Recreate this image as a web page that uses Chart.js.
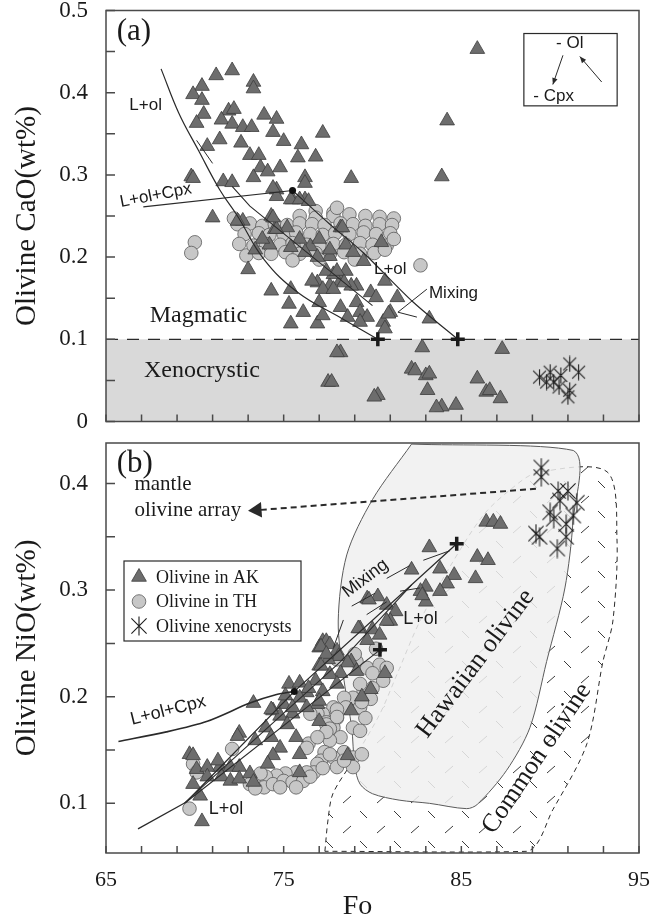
<!DOCTYPE html>
<html>
<head>
<meta charset="utf-8">
<title>Olivine CaO and NiO vs Fo</title>
<script src="https://cdn.jsdelivr.net/npm/chart.js@4.4.1/dist/chart.umd.min.js"></script>
<style>
  html, body { margin: 0; padding: 0; background: #fff; }
  #wrap { position: relative; width: 656px; height: 920px; }
  canvas { position: absolute; left: 0; }
  #chartA { top: 0; }
  #chartB { top: 432px; }
</style>
</head>
<body>
<div id="wrap">
  <canvas id="chartA" width="656" height="432"></canvas>
  <canvas id="chartB" width="656" height="488"></canvas>
</div>
<script>
// ---- axes
var xTicks = [65, 67, 69, 71, 73, 75, 77, 79, 81, 83, 85, 87, 89, 91, 93, 95];
var xLabels = [65, 75, 85, 95];
var yTicksA = [0, 0.05, 0.1, 0.15, 0.2, 0.25, 0.3, 0.35, 0.4, 0.45, 0.5];
var yLabelsA = [0, 0.1, 0.2, 0.3, 0.4, 0.5];
var yTicksB = [0.1, 0.15, 0.2, 0.25, 0.3, 0.35, 0.4];
var yLabelsB = [0.1, 0.2, 0.3, 0.4];
var caoLimit = 0.1;

// ---- (a) Fo vs CaO
var akA = [
  [71.2,0.421],[72.1,0.427],[73.3,0.413],[73.3,0.405],[70.4,0.408],[69.9,0.398],[70.4,0.391],
  [70.5,0.374],[70.1,0.363],[71.9,0.378],[72.2,0.380],[71.5,0.367],[72.1,0.362],[72.7,0.358],
  [73.2,0.358],[73.9,0.373],[74.6,0.368],[74.4,0.352],[75.0,0.341],[76.0,0.337],[77.2,0.351],
  [71.4,0.343],[72.6,0.339],[70.7,0.335],[73.1,0.324],[73.6,0.324],[73.7,0.309],[74.1,0.304],
  [74.8,0.309],[75.8,0.321],[76.8,0.322],[76.2,0.297],[69.8,0.298],[69.9,0.296],[73.3,0.297],
  [71.6,0.292],[72.1,0.291],[74.6,0.282],[74.6,0.274],[75.5,0.270],[76.2,0.270],
  [85.9,0.453],[84.2,0.366],[83.9,0.298],[78.8,0.296],
  [76.2,0.290],[74.4,0.284],[75.4,0.270],[75.9,0.270],[76.4,0.268],[74.3,0.250],[72.7,0.244],
  [72.4,0.244],[74.5,0.234],[75.2,0.236],[78.2,0.236],[73.0,0.185],[74.3,0.159],[75.4,0.161],
  [75.3,0.143],[76.1,0.133],[77.0,0.145],[75.4,0.119],[76.9,0.119],[76.9,0.169],[77.6,0.165],
  [78.5,0.183],[78.2,0.171],[79.1,0.165],[79.9,0.157],[80.7,0.171],[81.4,0.151],[80.2,0.151],
  [79.1,0.145],[78.2,0.139],[79.3,0.133],[79.7,0.127],[80.6,0.121],[81.0,0.133],[80.7,0.113],
  [83.2,0.125],[78.6,0.127],[79.3,0.121],[77.2,0.129],[77.6,0.201],[79.5,0.195],[80.5,0.218],
  [80.9,0.131],[78.8,0.165],[77.8,0.179],[77.4,0.183],
  [74.6,0.234],[75.9,0.222],[76.5,0.213],[77.0,0.222],[77.6,0.209],[78.3,0.236],[78.5,0.215],
  [78.9,0.206],[74.2,0.215],[73.8,0.222],[73.4,0.209],[75.4,0.212],[76.2,0.206],[76.9,0.200],
  [78.0,0.183],[76.6,0.171],[78.4,0.169],[77.2,0.161],[77.8,0.161],[71.0,0.248],[74.4,0.248],
  [78.2,0.084],[78.0,0.084],[82.8,0.090],[87.3,0.088],[82.2,0.064],[82.4,0.062],[83.0,0.056],
  [83.2,0.058],[85.9,0.052],[77.5,0.048],[77.7,0.048],[80.3,0.032],[80.1,0.030],[83.1,0.038],
  [83.9,0.018],[83.6,0.017],[84.7,0.020],[86.4,0.036],[86.6,0.038],[87.2,0.028]
];
var thA = [
  [70.0,0.218],[69.8,0.205],[72.9,0.202],[82.7,0.190],[76.8,0.256],[77.8,0.254],
  [75.9,0.250],[76.8,0.248],[77.8,0.250],[78.7,0.252],[79.6,0.250],[80.4,0.249],[81.2,0.247],
  [72.4,0.240],[73.1,0.241],[73.8,0.238],[74.5,0.240],[75.2,0.239],[75.9,0.241],[76.6,0.240],
  [77.3,0.239],[78.2,0.241],[78.9,0.240],[79.6,0.238],[80.4,0.240],[81.1,0.239],
  [72.8,0.228],[73.6,0.229],[74.2,0.227],[75.0,0.228],[75.7,0.230],[76.5,0.228],[77.2,0.227],
  [77.9,0.229],[78.7,0.228],[79.5,0.230],[80.2,0.228],[81.0,0.229],
  [72.5,0.216],[73.3,0.214],[74.0,0.216],[74.8,0.215],[75.5,0.217],[76.3,0.215],[77.0,0.214],
  [77.8,0.216],[78.5,0.215],[79.3,0.217],[80.0,0.215],[80.8,0.214],[81.2,0.222],
  [73.6,0.205],[74.3,0.204],[75.1,0.206],[75.9,0.204],[76.8,0.205],[77.6,0.204],[78.4,0.206],
  [79.3,0.204],[80.1,0.205],[79.0,0.197],[77.0,0.197],[75.5,0.196],[80.7,0.209],[78.0,0.260],
  [72.2,0.247]
];
var xenoA = [
  [89.4,0.054],[90.0,0.060],[90.2,0.048],[91.1,0.070],[91.6,0.060],[90.5,0.042],[91.1,0.038],
  [91.0,0.030],[89.8,0.048],[90.6,0.056]
];
var olCurveA = [[68.1,0.429],[69.1,0.375],[70.2,0.330],[71.4,0.282],[72.4,0.250],[73.9,0.197],[75.8,0.157],[78.3,0.125],[80.3,0.10]];
var cpxLineA = [[67.1,0.261],[75.5,0.281]];
var olLineA = [[75.5,0.281],[77.6,0.240],[79.5,0.205],[82.3,0.145],[84.8,0.10]];
var mixLineA = [[72.1,0.286],[73.1,0.262],[80.0,0.141]];
var tieA = [[70.1,0.342],[71.0,0.314]];
var mixPointerA = [[83.06,0.161],[81.43,0.133],[82.5,0.127]];
var crossA = [[80.3,0.10],[84.8,0.10]];
var dotA = [[75.5,0.281]];

// ---- (b) Fo vs NiO
var akB = [
  [86.4,0.364],[86.8,0.364],[87.2,0.362],[83.2,0.340],[85.9,0.331],[86.5,0.328],[82.2,0.319],
  [83.8,0.320],[84.6,0.314],[85.8,0.311],[84.2,0.306],[83.0,0.303],[82.7,0.299],[83.8,0.299],
  [83.0,0.289],[82.8,0.295],[79.7,0.292],[80.3,0.294],[79.8,0.291],[80.8,0.286],[81.3,0.280],
  [81.0,0.271],[80.8,0.271],[79.3,0.264],[80.0,0.263],[79.2,0.264],[80.4,0.258],[79.7,0.253],
  [77.2,0.252],[77.4,0.252],[77.6,0.249],[77.0,0.246],[78.0,0.243],[78.1,0.238],[77.5,0.235],
  [78.8,0.233],[77.0,0.229],[78.6,0.232],[79.1,0.224],[78.2,0.222],[77.6,0.221],[80.7,0.222],
  [79.9,0.207],[78.0,0.212],[76.8,0.215],[76.3,0.204],[75.3,0.212],[73.3,0.194],[77.2,0.205],
  [75.9,0.199],[75.0,0.193],[74.4,0.187],[75.5,0.184],[76.9,0.193],[74.8,0.182],
  [77.1,0.247],[77.4,0.240],[77.1,0.229],[75.9,0.213],[76.4,0.208],[75.1,0.201],[75.5,0.190],
  [74.3,0.188],[76.3,0.190],[77.0,0.196],[75.2,0.174],[72.5,0.166],[72.4,0.163],[74.0,0.171],
  [74.3,0.162],[73.4,0.159],[75.7,0.162],[77.0,0.177],[74.8,0.152],[74.4,0.145],[74.1,0.137],
  [75.9,0.146],[75.9,0.129],[71.4,0.134],[72.0,0.134],[72.5,0.134],[69.7,0.146],[69.9,0.145],
  [70.1,0.132],[70.7,0.134],[71.3,0.140],[70.7,0.125],[69.9,0.118],[70.3,0.107],[71.5,0.125],
  [72.0,0.121],[72.5,0.123],[73.1,0.128],[73.3,0.120],[70.4,0.083],[78.6,0.145],[78.8,0.187],
  [79.4,0.200]
];
var thB = [
  [78.0,0.235],[79.1,0.233],[79.7,0.227],[80.4,0.230],[80.8,0.227],[80.6,0.215],[80.0,0.208],
  [79.5,0.205],[78.9,0.199],[78.4,0.199],[77.8,0.190],[78.5,0.190],[79.3,0.190],[77.2,0.184],
  [78.0,0.180],[76.9,0.184],[76.5,0.184],[80.2,0.245],[79.3,0.212],[79.9,0.198],[79.4,0.195],
  [78.9,0.171],[79.3,0.168],[77.8,0.171],[78.2,0.162],[77.4,0.176],[78.0,0.188],[77.4,0.174],
  [78.0,0.181],[77.6,0.170],[79.6,0.180],[80.0,0.222],[79.0,0.240],
  [77.6,0.159],[78.4,0.148],[78.9,0.143],[78.9,0.134],[77.8,0.143],[77.3,0.148],[78.0,0.134],
  [79.4,0.146],[77.1,0.140],[77.6,0.146],[76.9,0.137],[76.7,0.129],[76.3,0.129],[75.7,0.129],
  [75.1,0.128],[74.6,0.126],[74.0,0.125],[73.7,0.128],[73.3,0.118],[73.9,0.115],[74.4,0.118],
  [75.0,0.121],[75.5,0.120],[76.1,0.121],[73.1,0.118],[73.4,0.114],[74.8,0.115],[75.7,0.115],
  [76.5,0.125],[77.2,0.133],[78.4,0.140],[72.1,0.151],[69.9,0.137],[70.1,0.129],[69.7,0.095],
  [76.4,0.156],[76.3,0.152],[77.4,0.167],[76.9,0.162]
];
var xenoB = [
  [89.5,0.415],[89.5,0.406],[90.45,0.393],[91.0,0.393],[90.55,0.384],[91.5,0.382],[90.0,0.373],
  [90.2,0.367],[91.3,0.370],[90.9,0.362],[89.2,0.353],[89.4,0.350],[90.4,0.339],[90.9,0.350]
];
var cpxLineB = [[65.7,0.158],[68.4,0.167],[70.7,0.177],[73.1,0.194],[74.6,0.202],[75.6,0.205]];
var olStemB = [[66.8,0.076],[69.5,0.101]];
var olLineB1 = [[69.5,0.101],[75.6,0.205],[84.74,0.3435]];
var olLineB2 = [[69.5,0.101],[80.42,0.244]];
var olLineB3 = [[69.4,0.100],[78.2,0.233],[82.2,0.305]];
var tiesB = [
  [[82.86,0.328],[84.36,0.337]],
  [[80.8,0.311],[82.1,0.323]],
  [[78.83,0.285],[80.14,0.297]],
  [[81.55,0.299],[82.67,0.302]],
  [[79.67,0.277],[80.8,0.289]],
  [[77.8,0.246],[78.36,0.272]]
];
var crossB = [[84.74,0.3435],[80.42,0.244]];
var dotB = [[75.6,0.205]];
var mantleArrow = [[89.2,0.395],[73.5,0.375]];
var hawaiianField = [
  [82.2,0.437],[80.0,0.385],[78.55,0.333],[78.07,0.271],[78.4,0.215],[78.83,0.171],[79.0,0.135],
  [79.3,0.118],[80.0,0.109],[81.5,0.103],[83.2,0.100],[85.3,0.095],[85.9,0.099],[87.55,0.131],
  [88.86,0.171],[89.8,0.233],[90.83,0.302],[91.28,0.364],[91.3,0.431],[82.2,0.437]
];
var commonField = [
  [77.32,0.055],[77.5,0.085],[77.77,0.109],[78.9,0.140],[80.42,0.184],[81.38,0.221],[82.67,0.271],
  [84.36,0.322],[86.22,0.370],[87.74,0.394],[89.25,0.410],[93.2,0.411],[93.76,0.348],[93.53,0.271],
  [92.97,0.233],[92.07,0.156],[90.15,0.094],[88.69,0.055],[77.32,0.055]
];

var SERIF = "'Liberation Serif', 'Times New Roman', serif";
var SANS = "'Liberation Sans', Arial, sans-serif";
Chart.defaults.font.family = SERIF;
Chart.defaults.color = '#1a1a1a';

function pts(a) {
  return a.map(function (p) { return { x: p[0], y: p[1] }; });
}

function makeAsterisk(size) {
  var c = document.createElement('canvas');
  c.width = size; c.height = size;
  var g = c.getContext('2d');
  var m = size / 2, r = size / 2 - 0.5, d = r * 0.8;
  g.strokeStyle = '#1e1e1e';
  g.lineWidth = 1.1;
  g.beginPath();
  g.moveTo(m, m - r); g.lineTo(m, m + r);
  g.moveTo(m - d, m - d); g.lineTo(m + d, m + d);
  g.moveTo(m + d, m - d); g.lineTo(m - d, m + d);
  g.stroke();
  return c;
}

function makeHatch(ctx) {
  var c = document.createElement('canvas');
  c.width = 34; c.height = 30;
  var g = c.getContext('2d');
  g.strokeStyle = '#3a3a3a';
  g.lineWidth = 1;
  g.beginPath();
  g.moveTo(3, 11); g.lineTo(11, 4);
  g.moveTo(20, 19); g.lineTo(27, 26);
  g.stroke();
  return ctx.createPattern(c, 'repeat');
}

var triStyle = { pointStyle: 'triangle', radius: 8.5, fill: '#6d6d6d', stroke: '#3c3c3c' };
var cirStyle = { pointStyle: 'circle', radius: 6.8, fill: '#c7c7c7', stroke: '#5a5a5a' };

function pointSet(data, st, order) {
  return {
    type: 'scatter', data: pts(data), order: order,
    pointStyle: st.pointStyle, pointRadius: st.radius,
    backgroundColor: st.fill, borderColor: st.stroke, borderWidth: 0.8
  };
}
function starSet(data, img, order) {
  return { type: 'scatter', data: pts(data), order: order, pointStyle: img, pointRadius: img.width / 2 };
}
function lineSet(data, width, tension) {
  return {
    type: 'line', data: pts(data), order: 1, borderColor: '#2a2a2a', borderWidth: width || 1.2,
    pointRadius: 0, fill: false, tension: tension || 0
  };
}
function crossSet(data) {
  return {
    type: 'scatter', data: pts(data), order: 0, pointStyle: 'cross', pointRadius: 7,
    borderColor: '#1a1a1a', borderWidth: 3.5
  };
}
function dotSet(data) {
  return {
    type: 'scatter', data: pts(data), order: 0, pointStyle: 'circle', pointRadius: 3.5,
    backgroundColor: '#111', borderColor: '#111', borderWidth: 0
  };
}

// frame + inward tick marks
function framePlugin(yTicks) {
  return {
    id: 'frame',
    afterDatasetsDraw: function (chart) {
      var ctx = chart.ctx, a = chart.chartArea, xs = chart.scales.x, ys = chart.scales.y;
      ctx.save();
      ctx.strokeStyle = '#4a4a4a';
      ctx.lineWidth = 1.5;
      ctx.strokeRect(a.left, a.top, a.right - a.left, a.bottom - a.top);
      ctx.beginPath();
      xTicks.forEach(function (v) {
        var px = xs.getPixelForValue(v);
        ctx.moveTo(px, a.bottom); ctx.lineTo(px, a.bottom - 7);
      });
      yTicks.forEach(function (v) {
        var py = ys.getPixelForValue(v);
        ctx.moveTo(a.left, py); ctx.lineTo(a.left + 9, py);
      });
      ctx.stroke();
      ctx.restore();
    }
  };
}

function notesPlugin(notes) {
  return {
    id: 'notes',
    afterDatasetsDraw: function (chart) {
      var ctx = chart.ctx, xs = chart.scales.x, ys = chart.scales.y;
      notes.forEach(function (n) {
        ctx.save();
        ctx.translate(xs.getPixelForValue(n.x), ys.getPixelForValue(n.y));
        ctx.rotate((n.rot || 0) * Math.PI / 180);
        ctx.font = n.size + 'px ' + n.family;
        ctx.fillStyle = '#1a1a1a';
        ctx.textAlign = n.align || 'center';
        ctx.textBaseline = 'middle';
        ctx.fillText(n.text, 0, 0);
        ctx.restore();
      });
    }
  };
}

// x axis title, sits a little left of the plot centre as in the figure
var foTitle = {
  id: 'foTitle',
  afterDraw: function (chart) {
    var ctx = chart.ctx, a = chart.chartArea;
    ctx.save();
    ctx.font = '28px ' + SERIF;
    ctx.fillStyle = '#1a1a1a';
    ctx.textAlign = 'center';
    ctx.textBaseline = 'middle';
    ctx.fillText('Fo', (a.left + a.right) / 2 - 15, a.bottom + 54);
    ctx.restore();
  }
};

function arrow(ctx, x1, y1, x2, y2, head) {
  var ang = Math.atan2(y2 - y1, x2 - x1);
  ctx.beginPath();
  ctx.moveTo(x1, y1); ctx.lineTo(x2, y2);
  ctx.stroke();
  ctx.beginPath();
  ctx.moveTo(x2, y2);
  ctx.lineTo(x2 - head * Math.cos(ang - 0.4), y2 - head * Math.sin(ang - 0.4));
  ctx.lineTo(x2 - head * Math.cos(ang + 0.4), y2 - head * Math.sin(ang + 0.4));
  ctx.closePath();
  ctx.fill();
}

function axisOptions(cfg) {
  return {
    x: {
      type: 'linear', min: 65, max: 95,
      afterBuildTicks: function (s) { s.ticks = xTicks.map(function (v) { return { value: v }; }); },
      afterFit: function (s) { s.height = cfg.xHeight; s.paddingLeft = 0; s.paddingRight = 0; },
      grid: { display: false, drawTicks: false },
      border: { display: false },
      ticks: {
        display: cfg.xLabels, autoSkip: false, maxRotation: 0, padding: 14,
        color: '#1a1a1a', font: { size: 22 },
        callback: function (v) { return xLabels.indexOf(v) >= 0 ? String(v) : ''; }
      }
    },
    y: {
      type: 'linear', min: cfg.yMin, max: cfg.yMax,
      afterBuildTicks: function (s) { s.ticks = cfg.yTicks.map(function (v) { return { value: v }; }); },
      afterFit: function (s) { s.width = 106; s.paddingTop = 0; s.paddingBottom = 0; },
      grid: { display: false, drawTicks: false },
      border: { display: false },
      ticks: {
        autoSkip: false, padding: 18, color: '#1a1a1a', font: { size: 23 },
        callback: function (v) { return cfg.yLabels.indexOf(v) >= 0 ? String(v) : ''; }
      },
      title: {
        display: true, text: cfg.yTitle, color: '#1a1a1a',
        font: { size: 29, lineHeight: 1 }, padding: { top: 13, bottom: 0 }
      }
    }
  };
}

// ---------------- panel (a)
var notesA = [
  { text: '(a)', x: 65.6, y: 0.474, size: 31, family: SERIF, align: 'left' },
  { text: 'L+ol', x: 67.23, y: 0.385, size: 17, family: SANS },
  { text: 'L+ol+Cpx', x: 67.8, y: 0.275, size: 17, family: SANS, rot: -11 },
  { text: 'L+ol', x: 81.0, y: 0.185, size: 17, family: SANS },
  { text: 'Mixing', x: 84.56, y: 0.156, size: 17, family: SANS },
  { text: 'Magmatic', x: 70.2, y: 0.129, size: 24, family: SERIF },
  { text: 'Xenocrystic', x: 70.4, y: 0.062, size: 24, family: SERIF },
  { text: '- Ol', x: 91.1, y: 0.460, size: 17, family: SANS },
  { text: '- Cpx', x: 89.05, y: 0.395, size: 17, family: SANS, align: 'left' }
];

var shadeA = {
  id: 'shadeA',
  beforeDatasetsDraw: function (chart) {
    var ctx = chart.ctx, a = chart.chartArea, ys = chart.scales.y;
    var yl = ys.getPixelForValue(caoLimit);
    ctx.save();
    ctx.fillStyle = '#d9d9d9';
    ctx.fillRect(a.left, yl, a.right - a.left, a.bottom - yl);
    ctx.strokeStyle = '#2a2a2a';
    ctx.lineWidth = 1.2;
    ctx.setLineDash([12, 9]);
    ctx.beginPath();
    ctx.moveTo(a.left, yl); ctx.lineTo(a.right, yl);
    ctx.stroke();
    ctx.restore();
  },
  afterDatasetsDraw: function (chart) {
    // trend inset
    var ctx = chart.ctx, xs = chart.scales.x, ys = chart.scales.y;
    function X(v) { return xs.getPixelForValue(v); }
    function Y(v) { return ys.getPixelForValue(v); }
    ctx.save();
    ctx.fillStyle = '#fff';
    ctx.strokeStyle = '#2a2a2a';
    ctx.lineWidth = 1.2;
    ctx.fillRect(X(88.52), Y(0.472), X(93.77) - X(88.52), Y(0.384) - Y(0.472));
    ctx.strokeRect(X(88.52), Y(0.472), X(93.77) - X(88.52), Y(0.384) - Y(0.472));
    ctx.fillStyle = '#2a2a2a';
    ctx.lineWidth = 1;
    arrow(ctx, X(90.72), Y(0.4455), X(90.15), Y(0.410), 7);
    arrow(ctx, X(92.9), Y(0.413), X(91.67), Y(0.444), 7);
    ctx.restore();
  }
};

var ctxA = document.getElementById('chartA').getContext('2d');
var starA = makeAsterisk(17);
new Chart(ctxA, {
  type: 'scatter',
  data: {
    datasets: [
      crossSet(crossA),
      dotSet(dotA),
      lineSet(olCurveA, 1.2, 0.4),
      lineSet(cpxLineA, 1.2),
      lineSet(olLineA, 1.2, 0.3),
      lineSet(mixLineA, 1.1),
      lineSet(tieA, 1),
      lineSet(mixPointerA, 1),
      starSet(xenoA, starA, 2),
      pointSet(akA, triStyle, 3),
      pointSet(thA, cirStyle, 4)
    ]
  },
  options: {
    responsive: false,
    animation: false,
    layout: { padding: { top: 10, right: 17, left: 0, bottom: 0 } },
    plugins: { legend: { display: false }, tooltip: { enabled: false } },
    scales: axisOptions({
      xHeight: 9, xLabels: false, yMin: 0, yMax: 0.5,
      yTicks: yTicksA, yLabels: yLabelsA, yTitle: 'Olivine CaO(wt%)'
    })
  },
  plugins: [shadeA, framePlugin(yTicksA), notesPlugin(notesA)]
});

// ---------------- panel (b)
var notesB = [
  { text: '(b)', x: 65.6, y: 0.418, size: 31, family: SERIF, align: 'left' },
  { text: 'mantle', x: 66.6, y: 0.399, size: 21, family: SERIF, align: 'left' },
  { text: 'olivine array', x: 66.6, y: 0.375, size: 21, family: SERIF, align: 'left' },
  { text: 'L+ol+Cpx', x: 68.5, y: 0.187, size: 18, family: SANS, rot: -14 },
  { text: 'L+ol', x: 71.75, y: 0.095, size: 18, family: SANS },
  { text: 'L+ol', x: 82.7, y: 0.273, size: 18, family: SANS },
  { text: 'Mixing', x: 79.6, y: 0.311, size: 18, family: SANS, rot: -37 },
  { text: 'Hawaiian olivine', x: 85.8, y: 0.231, size: 26, family: SERIF, rot: -53 },
  { text: 'Common olivine', x: 89.25, y: 0.142, size: 26, family: SERIF, rot: -56 }
];

var starB = makeAsterisk(20);
var legendB = {
  id: 'legendB',
  afterDatasetsDraw: function (chart) {
    var ctx = chart.ctx, a = chart.chartArea;
    var bx = a.left + 18, by = a.top + 118;
    var items = [
      { label: 'Olivine in AK', st: triStyle },
      { label: 'Olivine in TH', st: cirStyle },
      { label: 'Olivine xenocrysts', st: null }
    ];
    ctx.save();
    ctx.fillStyle = '#fff';
    ctx.fillRect(bx, by, 177, 80);
    ctx.strokeStyle = '#2a2a2a';
    ctx.lineWidth = 1.2;
    ctx.strokeRect(bx, by, 177, 80);
    items.forEach(function (it, i) {
      var cy = by + 16 + i * 24.5;
      if (it.st) {
        ctx.fillStyle = it.st.fill;
        ctx.strokeStyle = it.st.stroke;
        ctx.lineWidth = 0.8;
        Chart.helpers.drawPoint(ctx, { pointStyle: it.st.pointStyle, radius: it.st.radius, rotation: 0, borderWidth: 0.8 }, bx + 15, cy);
      } else {
        ctx.drawImage(starB, bx + 15 - starB.width / 2, cy - starB.height / 2);
      }
      ctx.fillStyle = '#1a1a1a';
      ctx.font = '18px ' + SERIF;
      ctx.textAlign = 'left';
      ctx.textBaseline = 'middle';
      ctx.fillText(it.label, bx + 32, cy + 1);
    });
    ctx.restore();
  }
};

var ctxB = document.getElementById('chartB').getContext('2d');
var dsB = [
  crossSet(crossB),
  dotSet(dotB),
  lineSet(cpxLineB, 1.6, 0.3),
  lineSet(olStemB, 1.3),
  lineSet(olLineB1, 1.3),
  lineSet(olLineB2, 1.1),
  lineSet(olLineB3, 1.1)
];
tiesB.forEach(function (t) { dsB.push(lineSet(t, 1)); });
dsB.push(starSet(xenoB, starB, 2));
dsB.push(pointSet(akB, triStyle, 3));
dsB.push(pointSet(thB, cirStyle, 4));
dsB.push({
  type: 'line', data: pts(mantleArrow), order: 8,
  borderColor: '#2a2a2a', borderWidth: 2, borderDash: [6, 4], fill: false,
  pointRadius: [0, 9], pointStyle: 'triangle', pointRotation: -94,
  pointBackgroundColor: '#2a2a2a', pointBorderColor: '#2a2a2a', pointBorderWidth: 0
});
dsB.push({
  type: 'line', data: pts(hawaiianField), order: 9, tension: 0.3,
  borderColor: '#5a5a5a', borderWidth: 1, pointRadius: 0,
  backgroundColor: 'rgba(240,240,240,0.86)', fill: 'shape'
});
dsB.push({
  type: 'line', data: pts(commonField), order: 10, tension: 0.3,
  borderColor: '#2a2a2a', borderWidth: 1, borderDash: [5, 4], pointRadius: 0,
  backgroundColor: makeHatch(ctxB), fill: 'shape'
});

new Chart(ctxB, {
  type: 'scatter',
  data: { datasets: dsB },
  options: {
    responsive: false,
    animation: false,
    layout: { padding: { top: 8, right: 17, left: 0, bottom: 0 } },
    plugins: { legend: { display: false }, tooltip: { enabled: false } },
    scales: axisOptions({
      xHeight: 67, xLabels: true, yMin: 0.0534, yMax: 0.438,
      yTicks: yTicksB, yLabels: yLabelsB, yTitle: 'Olivine NiO(wt%)'
    })
  },
  plugins: [framePlugin(yTicksB), notesPlugin(notesB), legendB, foTitle]
});
</script>
</body>
</html>
